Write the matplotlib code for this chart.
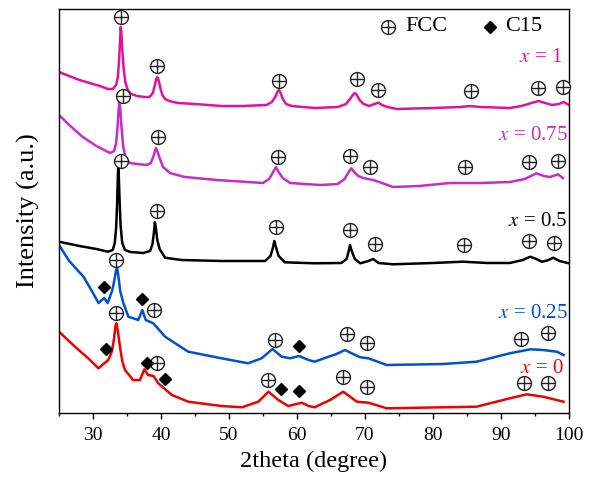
import matplotlib
matplotlib.use("Agg")
import matplotlib.pyplot as plt

plt.rcParams['font.family'] = ['Liberation Serif', 'DejaVu Serif']
plt.rcParams['mathtext.fontset'] = 'stix'

# ---- data: 2theta (degree) and intensity (a.u., offset-stacked) ----
t_x1 = [25, 26.5, 28, 29.5, 31, 32.2, 32.9, 33.4, 33.65, 33.85, 34.0, 34.07, 34.15, 34.3, 34.5, 34.75, 35.1,
        35.6, 36.5, 37.6, 38.3, 38.8, 39.1, 39.3, 39.46, 39.65, 39.9, 40.2, 40.6, 41.2, 42.5, 45, 48.9, 52,
        55.5, 56.3, 56.8, 57.1, 57.35, 57.6, 57.9, 58.4, 59.2, 62.6, 66, 67.2, 67.8, 68.2, 68.5, 68.8, 69.2,
        69.8, 70.6, 71.4, 71.96, 72.5, 73.3, 74.7, 80, 84, 85.4, 87, 91.3, 93, 94.5, 95.5, 96.5, 97.5, 98.5,
        99.2, 100]
i_x1 = [341, 337, 333, 330, 327, 324, 324, 328, 336, 354, 376, 386, 382, 364, 345, 331, 323,
        319, 317, 316, 316, 320, 328, 334, 336, 333, 325, 318, 314, 312, 310, 309, 307, 307,
        308, 311, 316, 321, 323, 320, 314, 309, 307, 305, 306, 309, 314, 318, 320, 318, 313,
        309, 307, 309, 310.3, 308, 306, 304, 305, 306, 307, 306, 305, 307, 310, 312, 310, 308, 309,
        311, 308]

t_x075 = [25, 26.5, 28.5, 30.5, 32.5, 33.1, 33.4, 33.6, 33.75, 33.87, 34.0, 34.2, 34.45, 34.8, 35.4, 36.5,
          37.9, 38.5, 38.9, 39.1, 39.26, 39.45, 39.8, 40.3, 41.3, 43.5, 48.2, 55, 55.9, 56.5, 56.9, 57.3,
          57.9, 59, 63.4, 66, 67.0, 67.6, 68.0, 68.4, 69.0, 69.7, 71.2, 72.5, 74.1, 78, 82.5, 87, 91.3,
          93.5, 95.2, 96.3, 97.2, 98.4, 99.1]
i_x075 = [298, 288, 276, 267, 260, 262, 270, 285, 302, 311, 305, 285, 266, 255, 250, 249,
          248, 250, 257, 262, 265, 262, 255, 246, 240, 236, 233, 230, 234, 241, 246, 241,
          235, 230, 228, 229, 234, 241, 244.7, 241, 237, 235, 233, 230, 226, 227, 230, 230, 231,
          234, 239.7, 237, 236, 238.7, 235]

t_x05 = [25, 28, 30.5, 32.2, 32.9, 33.2, 33.4, 33.55, 33.65, 33.7, 33.78, 33.9, 34.05, 34.3, 34.7, 35.5,
         37.35, 38.4, 38.75, 38.95, 39.1, 39.25, 39.45, 39.8, 40.6, 43, 48.9, 55.3, 56.1, 56.45, 56.67,
         56.9, 57.3, 58.2, 62.6, 66.5, 67.3, 67.6, 67.8, 68.05, 68.5, 69.3, 70.5, 71.2, 72, 74.1, 80, 84.4,
         88, 91.3, 93.2, 94.3, 95.2, 96.0, 96.8, 97.7, 98.6, 100]
i_x05 = [171.3, 167, 164, 161.3, 163, 170, 185, 210, 235, 246, 240, 215, 188, 170, 163, 161,
         160, 162, 169, 180, 190.7, 185, 173, 164, 155.3, 153, 152, 152, 157, 165, 172,
         166, 157, 150.7, 149.7, 150, 154, 162, 168, 162, 154, 149.7, 152, 154, 150, 148.7, 150, 151.3,
         150, 150, 153, 156.3, 154, 151.3, 152.5, 155.3, 152, 149.7]

t_x025 = [25, 26.5, 28.6, 30, 30.8, 31.65, 32.15, 32.8, 33.15, 33.4, 33.55, 33.75, 34.0, 34.46, 35.2, 36.66,
          37.25, 37.75, 38.87, 40.6, 44, 48.9, 52.8, 54.8, 56.4, 57.75, 59, 60.3, 61.7, 62.6, 64.4, 65.8,
          67.06, 68.04, 69.3, 70.5, 73.2, 81.5, 86.4, 91.3, 94.3, 96.2, 98.2, 99.2]
i_x025 = [168, 152, 136.3, 120, 110, 115, 110, 122, 133, 143, 144.7, 136, 122, 110, 96.3, 93,
          103, 93, 89.7, 76.3, 61.3, 54.7, 49.7, 54.7, 64, 56.3, 54.7, 57, 53, 51.3, 55.7, 59,
          63, 59.7, 55.7, 54.7, 48, 49, 51.3, 59.7, 63.7, 63, 61.3, 58]

t_x0 = [25, 27.35, 29.3, 30.8, 31.65, 32.25, 32.8, 33.1, 33.3, 33.45, 33.65, 33.97, 34.3, 34.7, 35.9, 36.9,
        37.55, 38.1, 38.9, 39.6, 41.6, 44.0, 48.9, 51.9, 54.3, 55.8, 57.25, 58.7, 60.7, 61.7, 62.6, 64.85,
        66.8, 68.8, 70.5, 73.2, 81.5, 86.4, 91.3, 93.8, 96.2, 99.2]
i_x0 = [81.3, 66.3, 54.7, 44.7, 49.7, 53, 62, 75, 87, 89.7, 82, 66, 52, 43, 33, 33,
        43.7, 38, 37, 29.7, 18, 11.3, 7, 5.7, 11.3, 21.3, 13, 7, 10.3, 7, 5.7, 13,
        21.3, 11.3, 10.3, 4.7, 5.7, 6.3, 14.7, 18.7, 16.3, 11.3]

# phase markers (FCC = circled plus, C15 = diamond)
fcc_t = [34.07, 39.46, 57.35, 68.78, 71.96, 85.6, 95.4, 99.1,
         34.37, 39.51, 57.16, 67.8, 70.7, 84.7, 94.16, 98.4,
         34.07, 39.46, 56.9, 67.8, 71.5, 84.6, 94.1, 97.8,
         33.34, 38.97, 56.76, 67.4, 70.34, 92.9, 96.96,
         33.38, 39.37, 55.78, 66.8, 70.25, 93.4, 96.96]
fcc_i = [396.3, 347, 331.7, 333.7, 323, 322, 325.3, 326.3,
         317, 276.3, 256.3, 257.3, 246.3, 246.3, 251.3, 252,
         252, 202, 186.3, 183, 168.7, 168, 172, 170.3,
         153, 103, 73, 78.7, 69.7, 74, 80.3,
         99.7, 50.3, 33, 36.3, 26.3, 29.7, 30.3]
c15_t = [31.6, 37.25, 60.34, 31.9, 37.9, 40.6, 57.65, 60.34]
c15_i = [126.3, 114, 67.3, 63.7, 50.3, 33.7, 24.3, 22]

labels = ['$x$ = 1', '$x$ = 0.75', '$x$ = 0.5', '$x$ = 0.25', '$x$ = 0']
label_t = [98.97, 99.8, 99.8, 99.8, 99.2]
label_i = [355, 278, 192, 99.7, 44.7]
colors = ['#E4109E', '#C82CC8', '#000000', '#0050D0', '#F00000']
xticks = [30, 40, 50, 60, 70, 80, 90, 100]

fig = plt.figure(figsize=(5.89, 4.78), dpi=100)
ax = fig.add_axes([59/589, 65/478, 510/589, 404/478])

series = [(t_x1, i_x1), (t_x075, i_x075), (t_x05, i_x05), (t_x025, i_x025), (t_x0, i_x0)]
for (t, i), c in zip(series, colors):
    ax.plot(t, i, color=c, lw=1.8, solid_joinstyle='round')

mk = '#222222'
ax.plot(fcc_t, fcc_i, ls='none', marker='o', ms=10, mfc='white', mec=mk, mew=1.0, clip_on=False, zorder=5)
ax.plot(fcc_t, fcc_i, ls='none', marker='+', ms=10, mec=mk, mew=1.0, clip_on=False, zorder=6)
ax.plot(c15_t, c15_i, ls='none', marker='D', ms=6, color='black', zorder=5)

for lab, tx, iy, c in zip(labels, label_t, label_i, colors):
    ax.text(tx, iy, lab, color=c, fontsize=15, ha='right', va='center')

# legend
ax.plot([73.4], [386.3], marker='o', ms=10, mfc='white', mec=mk, mew=1.0, ls='none')
ax.plot([73.4], [386.3], marker='+', ms=10, mec=mk, mew=1.0, ls='none')
ax.text(75.9, 386.3, 'FCC', fontsize=16, va='center', ha='left')
ax.plot([88.4], [386.3], marker='D', ms=6, color='black', ls='none')
ax.text(90.6, 386.3, 'C15', fontsize=16, va='center', ha='left')

ax.set_xlim(25, 100)
ax.set_ylim(0, 404)
ax.set_xticks(xticks)
ax.set_xticks([25, 35, 45, 55, 65, 75, 85, 95], minor=True)
ax.set_yticks([])
ax.tick_params(axis='x', which='major', direction='out', length=4, width=1, labelsize=14, pad=6)
ax.tick_params(axis='x', which='minor', direction='out', length=2.5, width=1)
for s in ax.spines.values():
    s.set_linewidth(1.0)
ax.set_xlabel('2theta (degree)', fontsize=17.5, labelpad=5)
ax.set_ylabel('Intensity (a.u.)', fontsize=19, labelpad=14)

fig.savefig('out.png', dpi=100)
